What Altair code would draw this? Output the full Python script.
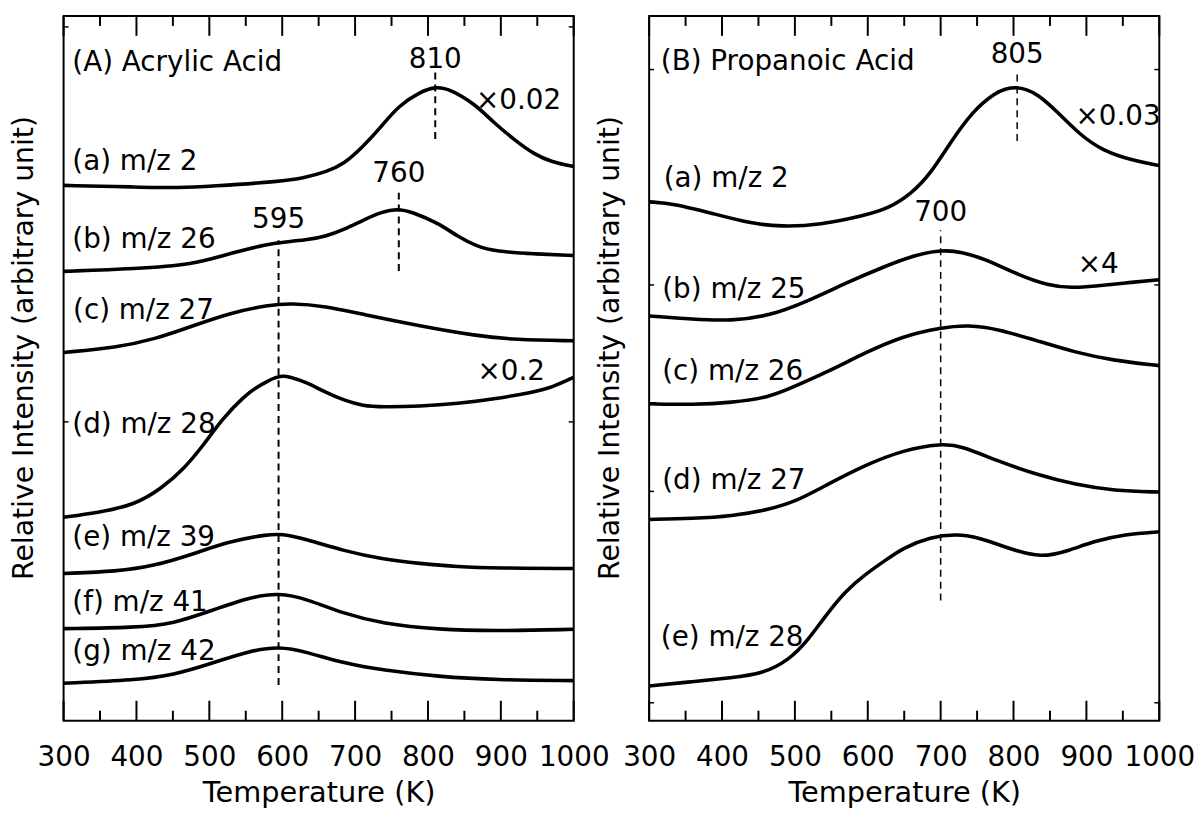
import altair as alt
import pandas as pd

# ---------------- Panel A: Acrylic Acid ----------------
A_series = ["(a) m/z 2", "(b) m/z 26", "(c) m/z 27", "(d) m/z 28",
            "(e) m/z 39", "(f) m/z 41", "(g) m/z 42"]
A_T = {
    "(a) m/z 2": [300, 400, 460, 500, 600, 630, 660, 685, 710, 735, 760, 790, 810, 830, 865, 890, 920, 945, 970, 1000],
    "(b) m/z 26": [300, 399, 477, 529, 581, 600, 633, 659, 685, 711, 737, 758, 778, 815, 841, 867, 893, 945, 1000],
    "(c) m/z 27": [300, 373, 425, 477, 529, 581, 612, 659, 711, 789, 867, 919, 1000],
    "(d) m/z 28": [300, 346, 399, 435, 466, 492, 518, 549, 565, 581, 590, 600, 610, 633, 659, 685, 711, 737, 789, 841, 893, 945, 971, 1000],
    "(e) m/z 39": [300, 373, 425, 477, 529, 581, 599, 633, 685, 737, 789, 841, 893, 1000],
    "(f) m/z 41": [300, 399, 451, 503, 555, 596, 633, 685, 737, 815, 893, 1000],
    "(g) m/z 42": [300, 399, 451, 503, 555, 596, 633, 685, 737, 815, 893, 1000],
}
A_I = {
    "(a) m/z 2": [539.3, 537.7, 536.7, 538.3, 543.3, 547, 552.7, 561, 577.7, 597.7, 620, 633.7, 638.8, 636.5, 621, 602.7, 584.3, 571, 562.7, 558.3],
    "(b) m/z 26": [452.7, 455.3, 459.3, 471, 480.3, 482, 484.3, 487.7, 495, 504.3, 512.7, 515.8, 512.7, 501, 487.7, 477.7, 472.7, 470.3, 468.7],
    "(c) m/z 27": [371, 376, 384.3, 397.7, 411, 418.7, 420.5, 417.7, 409.3, 397.7, 387.7, 383.7, 382.7],
    "(d) m/z 28": [205, 209.3, 217.7, 234.3, 254.3, 277.7, 304.3, 327.7, 336, 342.5, 345.5, 347.5, 346.5, 341, 331, 322.7, 317, 316, 316.7, 319.3, 324.3, 331, 336, 346],
    "(e) m/z 39": [148.3, 150.3, 156, 167.7, 181, 187.7, 188.2, 182.7, 171, 162.7, 158.3, 155, 153.7, 153.3],
    "(f) m/z 41": [92.7, 93.7, 97.7, 111, 124.3, 128.8, 122.7, 107.7, 97.7, 91.7, 90.3, 92],
    "(g) m/z 42": [37.7, 41, 46, 57.7, 70.3, 74.8, 69.3, 57.7, 51, 44.3, 41, 40.3],
}
A_label_text = ["(A) Acrylic Acid"] + A_series + ["×0.02", "×0.2"]
A_label_T = [312, 312, 312, 313, 312, 312, 312, 312, 866, 868]
A_label_I = [663, 563, 484, 413, 298, 184, 118, 69, 624, 351]
A_peak_text = ["810", "760", "595"]
A_peak_T = [810, 760, 595]
A_peak_I = [666, 551, 504]
A_dash_lo = [586, 453, 36]
A_dash_hi = [653, 533, 484]
A_yticks = [699, 301]

# ---------------- Panel B: Propanoic Acid ----------------
B_series = ["(a) m/z 2", "(b) m/z 25", "(c) m/z 26", "(d) m/z 27", "(e) m/z 28"]
B_T = {
    "(a) m/z 2": [300, 334, 387, 439, 481, 534, 597, 628, 660, 686, 712, 744, 775, 790, 804, 818, 833, 859, 890, 922, 964, 1000],
    "(b) m/z 25": [300, 360, 413, 465, 518, 570, 623, 665, 701, 728, 764, 806, 848, 880, 911, 953, 1000],
    "(c) m/z 26": [300, 360, 413, 465, 492, 544, 597, 649, 701, 738, 780, 833, 885, 938, 1000],
    "(d) m/z 27": [300, 360, 413, 465, 502, 544, 597, 649, 701, 728, 780, 833, 885, 938, 1000],
    "(e) m/z 28": [300, 360, 413, 455, 492, 518, 544, 570, 597, 623, 649, 686, 722, 754, 796, 838, 875, 911, 953, 1000],
}
B_I = {
    "(a) m/z 2": [522.7, 521, 511, 501, 497.7, 499.3, 509.3, 516, 531, 551, 581, 614.3, 632.7, 637, 638.3, 636, 631, 614.3, 591, 574.3, 564.3, 559.3],
    "(b) m/z 25": [407.7, 404.3, 402.7, 407.7, 422.7, 441, 457.7, 469.3, 474.2, 472.7, 464.3, 449.3, 438.3, 436, 437.7, 441, 444.3],
    "(c) m/z 26": [319.3, 318.3, 320.3, 326, 334.3, 351, 371, 387.7, 396, 398.8, 394.3, 382.7, 371, 362.7, 357.7],
    "(d) m/z 27": [202.7, 203.7, 206, 212.7, 221, 237.7, 257.7, 272.7, 279.2, 277, 261, 247.7, 237.7, 231.7, 230.3],
    "(e) m/z 28": [35, 39.3, 43.3, 47, 61, 81, 107.7, 131, 147.7, 161, 174.3, 185, 188.2, 184.3, 172.7, 164, 171, 181, 187.7, 190.3],
}
B_label_text = ["(B) Propanoic Acid"] + B_series + ["×0.03", "×4"]
B_label_T = [316, 320, 318, 318, 318, 316, 885, 888]
B_label_I = [664, 546, 434, 351, 241, 83, 608, 459]
B_peak_text = ["805", "700"]
B_peak_T = [805, 700]
B_peak_I = [671, 511]
B_dash_lo = [584, 121]
B_dash_hi = [656, 494]
B_yticks = [656, 439, 231, 18]

# ---------------- axis ticks ----------------
x_major = [300, 400, 500, 600, 700, 800, 900, 1000]
x_minor = [350, 450, 550, 650, 750, 850, 950]

FONT = "DejaVu Sans"
W, H = 514, 710
X_TITLE = "Temperature (K)"
Y_TITLE = "Relative Intensity (arbitrary unit)"
xscale = alt.Scale(domain=[300, 1000], nice=False, zero=False)
yscale = alt.Scale(domain=[0, 710], nice=False, zero=False)

x_axis = alt.Axis(values=x_major, ticks=False, domain=False, grid=False,
                  labelFont=FONT, labelFontSize=28, labelColor="black",
                  labelPadding=23, labelFlush=False, labelOverlap=False,
                  titleFont=FONT, titleFontSize=29, titleFontWeight="normal",
                  titleColor="black", titlePadding=7, format="d")
y_axis = alt.Axis(labels=False, ticks=False, domain=False, grid=False,
                  titleFont=FONT, titleFontSize=28.5, titleFontWeight="normal",
                  titleColor="black", titlePadding=25, titleY=334)


def X(field):
    return alt.X(field, scale=xscale, axis=x_axis, title=X_TITLE)


def Y(field):
    return alt.Y(field, scale=yscale, axis=y_axis, title=Y_TITLE)


def panel(series, T, I, lab_text, lab_T, lab_I, pk_text, pk_T, pk_I,
          d_lo, d_hi, yticks, dash_w, dash):
    rows = []
    for s in series:
        for t, v in zip(T[s], I[s]):
            rows.append({"T": t, "I": v, "s": s})
    curves = pd.DataFrame(rows)
    labels = pd.DataFrame({"T": lab_T, "I": lab_I, "text": lab_text})
    peaks = pd.DataFrame({"T": pk_T, "I": pk_I, "text": pk_text})
    dashes = pd.DataFrame({"T": pk_T, "lo": d_lo, "hi": d_hi})
    majors = pd.DataFrame({"T": x_major})
    minors = pd.DataFrame({"T": x_minor})
    yt = pd.DataFrame({"I": yticks})

    lines = alt.Chart(curves).mark_line(
        color="black", strokeWidth=3.6, interpolate="basis"
    ).encode(x=X("T:Q"), y=Y("I:Q"), detail="s:N")
    dash_rules = alt.Chart(dashes).mark_rule(
        color="black", strokeWidth=dash_w, strokeDash=dash
    ).encode(x=X("T:Q"), y=Y("lo:Q"), y2="hi:Q")
    lab = alt.Chart(labels).mark_text(
        align="left", baseline="middle", font=FONT, fontSize=28, color="black"
    ).encode(x=X("T:Q"), y=Y("I:Q"), text="text:N")
    pk = alt.Chart(peaks).mark_text(
        align="center", baseline="middle", font=FONT, fontSize=28, color="black"
    ).encode(x=X("T:Q"), y=Y("I:Q"), text="text:N")
    tk = []
    for df, ln in ((majors, 20), (minors, 10)):
        tk.append(alt.Chart(df).mark_rule(color="black", strokeWidth=2).encode(
            x=X("T:Q"), y=alt.value(H), y2=alt.value(H - ln)))
        tk.append(alt.Chart(df).mark_rule(color="black", strokeWidth=2).encode(
            x=X("T:Q"), y=alt.value(0), y2=alt.value(ln)))
    for x0, x1 in ((0, 5), (W - 5, W)):
        tk.append(alt.Chart(yt).mark_rule(color="black", strokeWidth=1.5).encode(
            y=Y("I:Q"), x=alt.value(x0), x2=alt.value(x1)))
    return alt.layer(lines, dash_rules, lab, pk, *tk).properties(width=W, height=H)


left = panel(A_series, A_T, A_I, A_label_text, A_label_T, A_label_I,
             A_peak_text, A_peak_T, A_peak_I, A_dash_lo, A_dash_hi, A_yticks, 2, [7, 5])
right = panel(B_series, B_T, B_I, B_label_text, B_label_T, B_label_I,
              B_peak_text, B_peak_T, B_peak_I, B_dash_lo, B_dash_hi, B_yticks, 1.5, [7, 5])

chart = alt.hconcat(left, right, spacing=76, bounds="flush").properties(
    padding={"left": 1, "top": 3, "right": 0, "bottom": 0},
    background="white",
).configure_view(
    stroke="black", strokeWidth=2
)

chart.save("out.html", embed_options={"renderer": "svg", "actions": False})
